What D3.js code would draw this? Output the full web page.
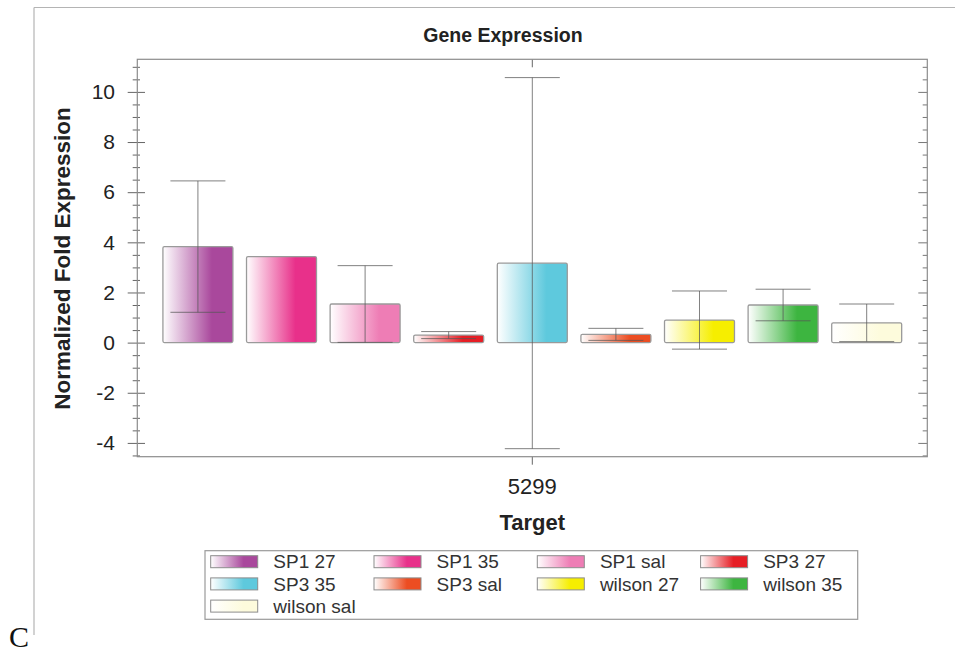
<!DOCTYPE html>
<html>
<head>
<meta charset="utf-8">
<script src="https://cdn.jsdelivr.net/npm/d3@7"></script>
<style>
  body { margin: 0; background: #fff; }
  svg { display: block; font-family: "Liberation Sans", Arial, sans-serif; }
</style>
</head>
<body>
<div id="vis-holder"></div>
<script>
// data
const targets = ["5299"];
const samples = ["SP1 27", "SP1 35", "SP1 sal", "SP3 27", "SP3 35", "SP3 sal", "wilson 27", "wilson 35", "wilson sal"];
const expression = [3.83, 3.43, 1.54, 0.30, 3.17, 0.33, 0.90, 1.50, 0.79];
const errors = [2.62, 0, 1.53, 0.14, 7.40, 0.24, 1.16, 0.63, 0.75];
const colors = ["#a9489c", "#e8308a", "#ee7db5", "#e61e25", "#5ec9dd", "#ec4d22", "#f6ee00", "#3db540", "#fdfbdc"];
const majorTicks = [-4, -2, 0, 2, 4, 6, 8, 10];

const width = 955, height = 652;
const plot = { left: 137.3, right: 927.3, top: 59.3, bottom: 456.7 };

const svg = d3.select("#vis-holder")
    .append("svg")
    .attr("width", width)
    .attr("height", height);

// gradients, white on the left to the colour on the right
const defs = svg.append("defs");
colors.forEach(function (c, i) {
    let g = defs.append("linearGradient")
        .attr("id", "grad" + i)
        .attr("x1", "0%").attr("x2", "100%")
        .attr("y1", "0%").attr("y2", "0%");
    g.append("stop").attr("offset", "0%").attr("stop-color", "#ffffff");
    g.append("stop").attr("offset", "70%").attr("stop-color", c);
    g.append("stop").attr("offset", "100%").attr("stop-color", c);
});

// outer figure frame
svg.append("line")
    .attr("x1", 34).attr("x2", width).attr("y1", 7.5).attr("y2", 7.5)
    .attr("stroke", "#b4b4b4").attr("stroke-width", 1.2);
svg.append("line")
    .attr("x1", 34).attr("x2", 34).attr("y1", 7.5).attr("y2", 635)
    .attr("stroke", "#b4b4b4").attr("stroke-width", 1.2);

svg.append("text")
    .attr("x", 9).attr("y", 647)
    .style("font-family", "'Liberation Serif', 'Times New Roman', serif")
    .style("font-size", "30px")
    .attr("fill", "#111")
    .text("C");

// scales
const y = d3.scaleLinear()
    .domain([-4.55, 11.3])
    .range([plot.bottom, plot.top]);

const x0 = d3.scaleBand()
    .domain(targets)
    .range([plot.left, plot.right]);

const x1 = d3.scaleBand()
    .domain(samples)
    .range([0, x0.bandwidth()])
    .paddingInner(0.163)
    .paddingOuter(0.3065);

const minorTicks = d3.range(-4.5, 11.01, 0.5).filter(function (v) { return majorTicks.indexOf(v) < 0; });

// left axis, ticks cross the frame (plain hyphen for negatives)
let leftMajor = svg.append("g")
    .attr("transform", "translate(" + plot.left + ",0)")
    .call(d3.axisLeft(y).tickValues(majorTicks).tickFormat(function (v) { return String(v); })
        .tickSize(9.6).tickSizeOuter(0).tickPadding(12.7));
leftMajor.select(".domain").remove();
leftMajor.selectAll(".tick line").attr("x1", 7.7).attr("stroke", "#666");
leftMajor.selectAll(".tick text")
    .style("font-size", "21px")
    .attr("fill", "#222");

let leftMinor = svg.append("g")
    .attr("transform", "translate(" + plot.left + ",0)")
    .call(d3.axisLeft(y).tickValues(minorTicks).tickFormat("").tickSize(4.6).tickSizeOuter(0));
leftMinor.select(".domain").remove();
leftMinor.selectAll(".tick line").attr("x1", 2.7).attr("stroke", "#666");

// right axis, inward ticks only
let rightMajor = svg.append("g")
    .attr("transform", "translate(" + plot.right + ",0)")
    .call(d3.axisLeft(y).tickValues(majorTicks).tickFormat("").tickSize(9).tickSizeOuter(0));
rightMajor.select(".domain").remove();
rightMajor.selectAll(".tick line").attr("stroke", "#777");

let rightMinor = svg.append("g")
    .attr("transform", "translate(" + plot.right + ",0)")
    .call(d3.axisLeft(y).tickValues(minorTicks).tickFormat("").tickSize(4.6).tickSizeOuter(0));
rightMinor.select(".domain").remove();
rightMinor.selectAll(".tick line").attr("stroke", "#777");

// bottom axis
let bottomAxis = svg.append("g")
    .attr("transform", "translate(0," + plot.bottom + ")")
    .call(d3.axisBottom(x0).tickSize(8).tickSizeOuter(0).tickPadding(13.6));
bottomAxis.select(".domain").remove();
bottomAxis.selectAll(".tick line").attr("stroke", "#666");
bottomAxis.selectAll(".tick text")
    .style("font-size", "22px")
    .attr("fill", "#222");

let topAxis = svg.append("g")
    .attr("transform", "translate(0," + plot.top + ")")
    .call(d3.axisBottom(x0).tickFormat("").tickSize(8).tickSizeOuter(0));
topAxis.select(".domain").remove();
topAxis.selectAll(".tick line").attr("stroke", "#666");

// plot frame
svg.append("rect")
    .attr("x", plot.left).attr("y", plot.top)
    .attr("width", plot.right - plot.left)
    .attr("height", plot.bottom - plot.top)
    .attr("fill", "none")
    .attr("stroke", "#8c8c8c")
    .attr("stroke-width", 1.2);

// bars
let group = svg.append("g")
    .attr("transform", "translate(" + x0("5299") + ",0)");

group.selectAll("rect.bar")
    .data(samples)
    .enter().append("rect")
    .attr("class", "bar")
    .attr("x", function (d) { return x1(d); })
    .attr("y", function (d, i) { return y(Math.max(0, expression[i])); })
    .attr("width", x1.bandwidth())
    .attr("height", function (d, i) { return Math.abs(y(expression[i]) - y(0)); })
    .attr("rx", 1.5)
    .attr("fill", function (d, i) { return "url(#grad" + i + ")"; })
    .attr("stroke", "#9a9a9a")
    .attr("stroke-width", 1.3);

// error bars
const capHalf = 27.5;
let err = group.selectAll("g.err")
    .data(samples.filter(function (d, i) { return errors[i] > 0; }))
    .enter().append("g")
    .attr("class", "err")
    .attr("stroke", "#555")
    .attr("stroke-opacity", 0.75)
    .attr("stroke-width", 1);

err.append("line")
    .attr("x1", function (d) { return x1(d) + x1.bandwidth() / 2; })
    .attr("x2", function (d) { return x1(d) + x1.bandwidth() / 2; })
    .attr("y1", function (d) { let i = samples.indexOf(d); return y(expression[i] + errors[i]); })
    .attr("y2", function (d) { let i = samples.indexOf(d); return y(expression[i] - errors[i]); });

[1, -1].forEach(function (s) {
    err.append("line")
        .attr("x1", function (d) { return x1(d) + x1.bandwidth() / 2 - capHalf; })
        .attr("x2", function (d) { return x1(d) + x1.bandwidth() / 2 + capHalf; })
        .attr("y1", function (d) { let i = samples.indexOf(d); return y(expression[i] + s * errors[i]); })
        .attr("y2", function (d) { let i = samples.indexOf(d); return y(expression[i] + s * errors[i]); });
});

// titles
svg.append("text")
    .attr("x", 503).attr("y", 41.5)
    .attr("text-anchor", "middle")
    .style("font-size", "19.5px")
    .style("font-weight", "bold")
    .attr("fill", "#222")
    .text("Gene Expression");

svg.append("text")
    .attr("transform", "translate(70,258.5) rotate(-90)")
    .attr("text-anchor", "middle")
    .style("font-size", "22.5px")
    .style("font-weight", "bold")
    .attr("fill", "#222")
    .text("Normalized Fold Expression");

svg.append("text")
    .attr("x", x0("5299") + x0.bandwidth() / 2).attr("y", 530)
    .attr("text-anchor", "middle")
    .style("font-size", "22px")
    .style("font-weight", "bold")
    .attr("fill", "#222")
    .text("Target");

// legend
const legendBox = { x: 205, y: 550.7, w: 652.7, h: 68.6 };
let legend = svg.append("g");
legend.append("rect")
    .attr("x", legendBox.x).attr("y", legendBox.y)
    .attr("width", legendBox.w).attr("height", legendBox.h)
    .attr("fill", "#fff")
    .attr("stroke", "#9a9a9a")
    .attr("stroke-width", 1.2);

let items = legend.selectAll("g.item")
    .data(samples)
    .enter().append("g")
    .attr("class", "item")
    .attr("transform", function (d, i) {
        let col = i % 4, row = Math.floor(i / 4);
        return "translate(" + (210.7 + col * 163.3) + "," + (561.7 + row * 22.2) + ")";
    });

items.append("rect")
    .attr("x", 0).attr("y", -6)
    .attr("width", 47).attr("height", 12)
    .attr("fill", function (d, i) { return "url(#grad" + i + ")"; })
    .attr("stroke", "#8c8c8c")
    .attr("stroke-width", 1);

items.append("text")
    .attr("x", 62.6).attr("y", 6.6)
    .style("font-size", "19px")
    .attr("fill", "#333")
    .text(function (d) { return d; });
</script>
</body>
</html>
